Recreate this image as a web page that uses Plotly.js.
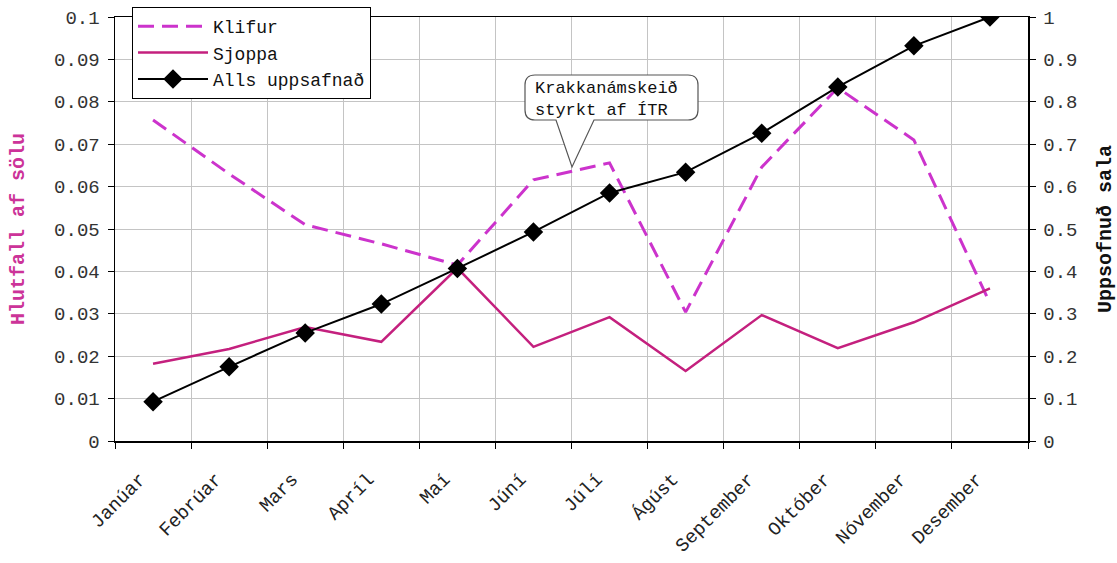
<!DOCTYPE html>
<html>
<head>
<meta charset="utf-8">
<script src="https://cdn.plot.ly/plotly-3.0.1.min.js"></script>
<style>html,body{margin:0;padding:0;background:#fff;}#chart{width:1117px;height:563px;}</style>
</head>
<body>
<div id="chart"></div>
<script>
const months = ["Janúar","Febrúar","Mars","Apríl","Maí","Júní","Júlí","Ágúst","September","Október","Nóvember","Desember"];
const klifur = [0.0757,0.063,0.051,0.0465,0.0415,0.0616,0.0656,0.0304,0.0646,0.0833,0.071,0.0325];
const sjoppa = [0.0182,0.0217,0.0269,0.0234,0.0408,0.0222,0.0292,0.0165,0.0297,0.0219,0.028,0.036];
const alls = [0.0927,0.175,0.255,0.323,0.407,0.493,0.585,0.634,0.726,0.835,0.932,1.0];
const leftTicks = [0,0.01,0.02,0.03,0.04,0.05,0.06,0.07,0.08,0.09,0.1];
const rightTicks = [0,0.1,0.2,0.3,0.4,0.5,0.6,0.7,0.8,0.9,1];

const W = 1117, H = 563;
const M = {l:115, r:89, t:17, b:122, autoexpand: false};
const PW = W - M.l - M.r, PH = H - M.t - M.b;
const px = x => ((x - M.l) / PW).toFixed(5);
const py = y => ((H - M.b - y) / PH).toFixed(5);
const P = (x,y) => px(x) + "," + py(y);

const bubble = "M" + P(535,75) + " L" + P(688,75) + " Q" + P(698,75) + " " + P(698,85) +
  " L" + P(698,110) + " Q" + P(698,120) + " " + P(688,120) +
  " L" + P(594,120) + " L" + P(572,167) + " L" + P(556,120) +
  " L" + P(535,120) + " Q" + P(525,120) + " " + P(525,110) +
  " L" + P(525,85) + " Q" + P(525,75) + " " + P(535,75) + " Z";

const FONT = "Liberation Mono, Courier New, monospace";

const traces = [
  {x: months, y: klifur, name: "Klifur", type: "scatter", mode: "lines",
   line: {color: "#CC33CC", width: 3, dash: "16px,8px"}, yaxis: "y"},
  {x: months, y: sjoppa, name: "Sjoppa", type: "scatter", mode: "lines",
   line: {color: "#C4207E", width: 2.5}, yaxis: "y"},
  {x: months, y: alls, name: "Alls uppsafnað", type: "scatter", mode: "lines+markers",
   line: {color: "#000000", width: 2}, marker: {symbol: "diamond", size: 15, color: "#000000"}, yaxis: "y2"}
];

const layout = {
  width: W, height: H,
  margin: M,
  paper_bgcolor: "#ffffff", plot_bgcolor: "#ffffff",
  font: {family: FONT, size: 16, color: "#222"},
  showlegend: true,
  legend: {x: px(132), y: py(7), xanchor: "left", yanchor: "top",
    bgcolor: "#ffffff", bordercolor: "#000000", borderwidth: 1,
    font: {family: FONT, size: 18, color: "#111"}, tracegroupgap: 0,
    itemwidth: 70},
  xaxis: {type: "category", range: [-0.5, 11.5], tickson: "boundaries",
    showgrid: true, gridcolor: "#c4c4c4", gridwidth: 1,
    showline: true, linecolor: "#000", linewidth: 1.5, mirror: true,
    ticks: "outside", ticklen: 6, tickcolor: "#000", tickangle: -45,
    ticklabelstandoff: 18, ticklabelshift: -13,
    tickfont: {family: FONT, size: 19, color: "#222"}, zeroline: false},
  yaxis: {range: [0, 0.1], tickvals: leftTicks, ticktext: leftTicks.map(String),
    showgrid: true, gridcolor: "#c4c4c4", gridwidth: 1, zeroline: false,
    showline: true, linecolor: "#000", linewidth: 1.5,
    ticks: "outside", ticklen: 6, tickcolor: "#000", ticklabelstandoff: 4,
    tickfont: {family: FONT, size: 19, color: "#333"},
    title: {text: "<b>Hlutfall af sölu</b>", font: {family: FONT, size: 20, color: "#CC3399"}, standoff: 24}},
  yaxis2: {range: [0, 1], tickvals: rightTicks, ticktext: rightTicks.map(String),
    overlaying: "y", side: "right", showgrid: false, zeroline: false,
    showline: true, linecolor: "#000", linewidth: 1.5,
    ticks: "outside", ticklen: 6, tickcolor: "#000", ticklabelstandoff: 4,
    tickfont: {family: FONT, size: 19, color: "#333"},
    title: {text: "<b>Uppsofnuð sala</b>", font: {family: FONT, size: 20, color: "#111"}, standoff: 26}},
  shapes: [
    {type: "path", xref: "paper", yref: "paper", path: bubble,
     fillcolor: "#ffffff", line: {color: "#555", width: 1.2}, layer: "above"}
  ],
  annotations: [
    {xref: "paper", yref: "paper", x: px(533), y: py(77), xanchor: "left", yanchor: "top",
     align: "left", showarrow: false, text: "Krakkanámskeið<br>styrkt af ÍTR",
     font: {family: FONT, size: 17, color: "#111"}}
  ]
};

Plotly.newPlot("chart", traces, layout, {displayModeBar: false, staticPlot: true});
</script>
</body>
</html>
